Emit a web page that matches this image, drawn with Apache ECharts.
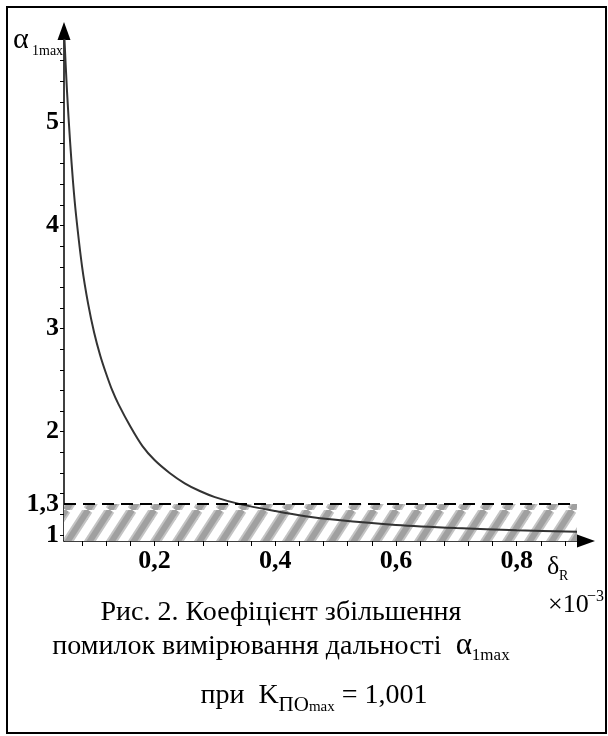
<!DOCTYPE html>
<html>
<head>
<meta charset="utf-8">
<style>html,body{margin:0;padding:0;background:#fff;}#c{width:608px;height:736px;}</style>
<script src="https://cdn.jsdelivr.net/npm/echarts@6/dist/echarts.min.js"></script>
</head>
<body>
<div id="c"></div>
<script>
// ---- data ----
const deltaR = [0.05, 0.055, 0.06, 0.065, 0.07, 0.08, 0.09, 0.10, 0.11, 0.12, 0.13, 0.14, 0.16, 0.18, 0.20, 0.225, 0.25, 0.275, 0.30, 0.34, 0.40, 0.45, 0.50, 0.60, 0.70, 0.80, 0.90];
const alpha1max = [5.9, 5.3, 4.82, 4.42, 4.1, 3.6, 3.24, 2.96, 2.74, 2.56, 2.40, 2.27, 2.05, 1.86, 1.725, 1.60, 1.50, 1.425, 1.366, 1.30, 1.23, 1.18, 1.145, 1.095, 1.065, 1.045, 1.03];
const threshold = 1.3;
const xTickLabels = [0.2, 0.4, 0.6, 0.8];
const xTickMarks = [0.08, 0.12, 0.16, 0.2, 0.24, 0.28, 0.32, 0.36, 0.4, 0.44, 0.48, 0.52, 0.56, 0.6, 0.64, 0.68, 0.72, 0.76, 0.8, 0.84, 0.88];
const yTickLabels = [1, 1.3, 2, 3, 4, 5];
const yTickMarks = [1, 1.2, 1.4, 1.6, 1.8, 2, 2.2, 2.4, 2.6, 2.8, 3, 3.2, 3.4, 3.6, 3.8, 4, 4.2, 4.4, 4.6, 4.8, 5, 5.2, 5.4, 5.6];
const xRange = [0.05, 0.9];
const yRange = [0.94, 5.8];

// ---- helpers ----
const FONT = '"Liberation Serif", "DejaVu Serif", serif';
const mctx = document.createElement('canvas').getContext('2d');
function tw(text, size, weight) {
  mctx.font = (weight || 'normal') + ' ' + size + 'px ' + FONT;
  return mctx.measureText(text).width;
}
function makeHatch() {
  const W = 22, H = 34;
  const c = document.createElement('canvas');
  c.width = W; c.height = H;
  const g = c.getContext('2d');
  g.fillStyle = '#fff'; g.fillRect(0, 0, W, H);
  g.lineCap = 'butt';
  [[10, '#c4c4c4'], [6, '#a0a0a0']].forEach(function (s) {
    g.lineWidth = s[0]; g.strokeStyle = s[1];
    for (let k = -1; k <= 1; k++) {
      g.beginPath(); g.moveTo(k * W, H); g.lineTo(k * W + W, 0); g.stroke();
    }
  });
  return c;
}
function composeLine(pieces, cx, by) {
  let total = 0;
  pieces.forEach(p => { p.w = tw(p.text, p.size, p.weight); total += p.w; });
  let x = cx - total / 2;
  const out = [];
  pieces.forEach(p => {
    out.push(txt(p.text, x, by + (p.dy || 0), p.size, 'left', p.weight));
    x += p.w;
  });
  return out;
}
function txt(text, x, baseline, size, align, weight) {
  return {
    type: 'text', x: x, y: baseline - 0.32 * size, silent: true,
    style: { text: text, fill: '#000', font: (weight || 'normal') + ' ' + size + 'px ' + FONT,
             textAlign: align || 'left', textVerticalAlign: 'middle', verticalAlign: 'middle' }
  };
}

const chart = echarts.init(document.getElementById('c'), null, { renderer: 'canvas' });
const hatch = makeHatch();
const fmt = v => String(v).replace('.', ',');

const graphics = [
  { type: 'rect', shape: { x: 7, y: 7, width: 599, height: 726 }, silent: true,
    style: { fill: 'none', stroke: '#000', lineWidth: 2 } },
  txt('α', 13, 50, 30),
  txt('1max', 32, 56, 14),
  txt('δ', 547, 575, 26),
  txt('R', 559, 581, 14),
  txt('×10', 548, 613, 26),
  txt('−3', 587, 602, 16),
  txt('Рис. 2. Коефіцієнт збільшення', 281, 622, 28, 'center')
].concat(
  composeLine([
    { text: 'помилок вимірювання дальності  ', size: 28 },
    { text: 'α', size: 31 },
    { text: '1max', size: 17, dy: 5 }
  ], 281, 656),
  composeLine([
    { text: 'при  K', size: 28 },
    { text: 'ПО', size: 21, dy: 7 },
    { text: 'max', size: 15, dy: 7 },
    { text: ' = 1,001', size: 28 }
  ], 314, 705)
);

chart.setOption({
  animation: false,
  backgroundColor: '#fff',
  grid: { left: 64, right: 31, top: 40, bottom: 195, containLabel: false },
  xAxis: {
    type: 'value', min: xRange[0], max: xRange[1],
    axisLine: { onZero: false, lineStyle: { color: '#000', width: 1.5 },
      symbol: ['none', 'triangle'], symbolSize: [13, 18], symbolOffset: [0, 9] },
    axisTick: { customValues: xTickMarks, length: 5, lineStyle: { color: '#000', width: 1 } },
    axisLabel: { customValues: xTickLabels, formatter: fmt, fontFamily: FONT, fontWeight: 'bold',
      fontSize: 26, color: '#000', margin: 7 },
    splitLine: { show: false }
  },
  yAxis: {
    type: 'value', min: yRange[0], max: yRange[1],
    axisLine: { onZero: false, lineStyle: { color: '#000', width: 1.5 },
      symbol: ['none', 'triangle'], symbolSize: [13, 18], symbolOffset: [0, 9] },
    axisTick: { customValues: yTickMarks, length: 4, lineStyle: { color: '#000', width: 1 } },
    axisLabel: { customValues: yTickLabels, formatter: fmt, fontFamily: FONT, fontWeight: 'bold',
      fontSize: 26, color: '#000', margin: 5 },
    splitLine: { show: false }
  },
  series: [{
    type: 'line',
    data: deltaR.map((d, i) => [d, alpha1max[i]]),
    smooth: 0.3, showSymbol: false, clip: true,
    lineStyle: { color: '#333', width: 2 },
    markArea: {
      silent: true,
      itemStyle: { color: { image: hatch, repeat: 'repeat' } },
      data: [[{ coord: [xRange[0], yRange[0]] }, { coord: [xRange[1], threshold] }]]
    },
    markLine: {
      silent: true, symbol: ['none', 'none'], label: { show: false },
      lineStyle: { color: '#000', type: [12, 7], width: 1.8 },
      data: [{ yAxis: threshold }]
    },
    z: 3
  }],
  graphic: graphics
});
</script>
</body>
</html>
